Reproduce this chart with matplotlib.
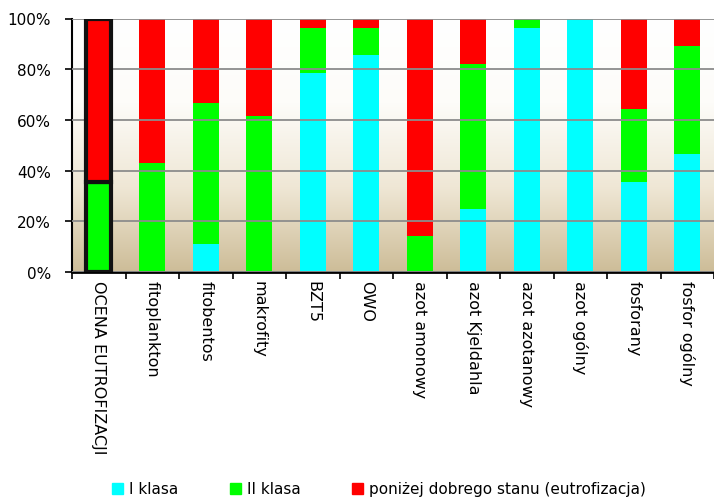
import numpy as np
import matplotlib.pyplot as plt
from matplotlib.patches import Patch
from matplotlib.colors import LinearSegmentedColormap

kategorie = ['OCENA EUTROFIZACJI', 'fitoplankton', 'fitobentos', 'makrofity', 'BZT5', 'OWO',
             'azot amonowy', 'azot Kjeldahla', 'azot azotanowy', 'azot ogólny', 'fosforany', 'fosfor ogólny']

# udzialy w %
klasa_1 = [0, 0, 11.1, 0, 78.6, 85.7, 0, 25.0, 96.4, 100, 35.7, 46.4]
klasa_2 = [35.7, 42.9, 55.6, 61.5, 17.8, 10.7, 14.3, 57.1, 3.6, 0, 28.6, 42.9]
ponizej = [64.3, 57.1, 33.3, 38.5, 3.6, 3.6, 85.7, 17.9, 0, 0, 35.7, 10.7]

CYAN = '#00ffff'
GREEN = '#00ff00'
RED = '#ff0000'

fig = plt.figure(figsize=(7.14, 5.02), dpi=100)
ax = fig.add_axes([72/714, 1-273/502, 642/714, (273-19.5)/502])

# tlo z gradientem
cmap = LinearSegmentedColormap.from_list('tlo', ['#cdbd98', '#efe7d5', '#fdfcf9', '#ffffff'])
grad = np.linspace(0, 1, 256).reshape(-1, 1)
ax.imshow(grad, aspect='auto', cmap=cmap, origin='lower', extent=[0, 1, 0, 1],
          transform=ax.transAxes, zorder=0)

x = np.arange(len(kategorie))
k1 = np.array(klasa_1); k2 = np.array(klasa_2); k3 = np.array(ponizej)
w = 0.48
ax.bar(x[1:], k1[1:], w, color=CYAN, zorder=2)
ax.bar(x[1:], k2[1:], w, bottom=k1[1:], color=GREEN, zorder=2)
ax.bar(x[1:], k3[1:], w, bottom=(k1+k2)[1:], color=RED, zorder=2)

# pierwszy slupek z gruba ramka
ax.bar(x[0], k2[0], w-0.02, color=GREEN, edgecolor='#111111', linewidth=3, zorder=3)
ax.bar(x[0], k3[0], w-0.02, bottom=k2[0], color=RED, edgecolor='#111111', linewidth=3, zorder=3)

ax.set_xlim(-0.5, len(kategorie)-0.5)
ax.set_ylim(0, 100)
ax.set_yticks(np.arange(0, 101, 20))
ax.set_yticklabels([f'{v}%' for v in range(0, 101, 20)], fontsize=11)
ax.yaxis.grid(True, color='#8c8c8c', linewidth=1.3, zorder=1)
ax.set_axisbelow(False)
for gl in ax.get_ygridlines():
    gl.set_zorder(1)

ax.set_xticks(x)
ax.set_xticklabels(kategorie, rotation=-90, fontsize=11.5, va='top', ha='center')
ax.tick_params(axis='x', length=0, pad=6)
ax.set_xticks(np.arange(-0.5, len(kategorie), 1), minor=True)
ax.tick_params(axis='x', which='minor', length=5, width=1.2, direction='out')
ax.tick_params(axis='y', length=5, width=1.2, direction='out', pad=10)

for s in ['top', 'right']:
    ax.spines[s].set_visible(False)
ax.spines['left'].set_linewidth(1.5)
ax.spines['bottom'].set_linewidth(2)

uchwyty = [Patch(color=CYAN, label='I klasa'), Patch(color=GREEN, label='II klasa'),
           Patch(color=RED, label='poniżej dobrego stanu (eutrofizacja)')]
fig.legend(handles=uchwyty, loc='center', bbox_to_anchor=(379/714, 1-490/502), ncol=3,
           frameon=False, fontsize=11, handlelength=0.7, handleheight=0.7,
           handletextpad=0.4, columnspacing=3.4)

plt.savefig('out.png', dpi=100)
